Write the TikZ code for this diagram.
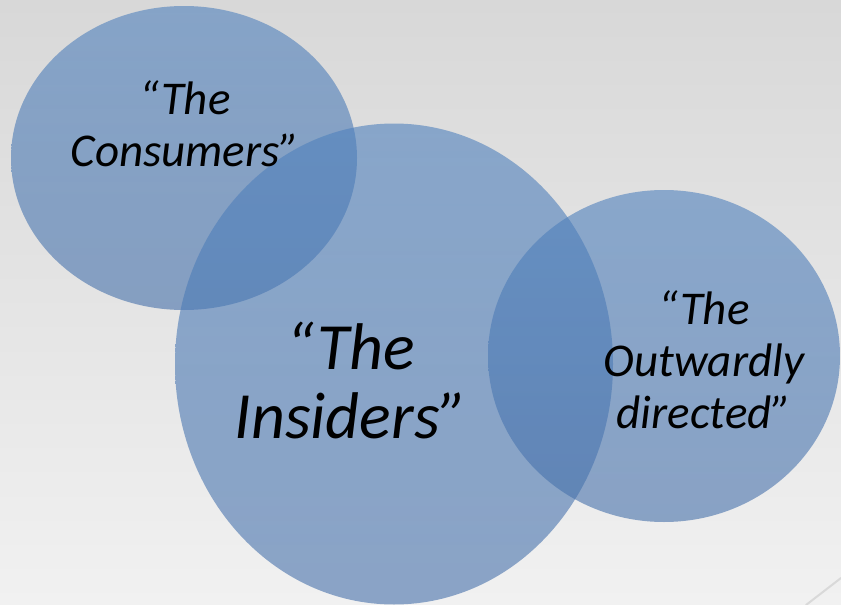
\documentclass[tikz,border=0pt]{standalone}
\usepackage{fontspec}
\setmainfont{Carlito}
\usepackage{xcolor}
\usepackage{tikz}
\usetikzlibrary{shapes,positioning,calc}
\definecolor{setblue}{RGB}{79,129,189}
\definecolor{setbluedark}{RGB}{70,112,170}
\definecolor{bgtop}{RGB}{216,216,216}
\definecolor{bgbottom}{RGB}{241,241,241}

\begin{document}
\begin{tikzpicture}[
        x=1pt, y=-1pt,
        every node/.style={font=\itshape},
        setblob/.style={ellipse, inner sep=0pt, top color=setblue, bottom color=setbluedark, fill opacity=0.6, draw=none},
        setlabel/.style={align=center, text opacity=1, inner sep=0pt},
        bigtext/.style={font=\itshape\fontsize{66}{69}\selectfont},
        smalltext/.style={font=\itshape\fontsize{47}{52}\selectfont}
    ]
        % background
        \shade[top color=bgtop, bottom color=bgbottom] (0,0) rectangle (841,605);
        \useasboundingbox (0,0) rectangle (841,605);
        \draw[white!85!black, line width=2pt, line cap=round] (806,605) -- (841,578);

        \node[setblob, minimum width=346pt, minimum height=304pt] (consumers) at (184,158) {};
        \node[setblob, minimum width=438pt, minimum height=481pt] (insiders) at (394,364) {};
        \node[setblob, minimum width=352pt, minimum height=332pt] (outward) at (664,356) {};

        \node[setlabel, smalltext] (consumerstext) at (185,124) {``The\\Consumers''};
        \node[setlabel, bigtext] (insiderstext) at (351,380) {``The\\Insiders''};
        \node[setlabel, smalltext] (outwardtext) at (704,360) {``The\\Outwardly\\directed''};
    \end{tikzpicture}
\end{document}
